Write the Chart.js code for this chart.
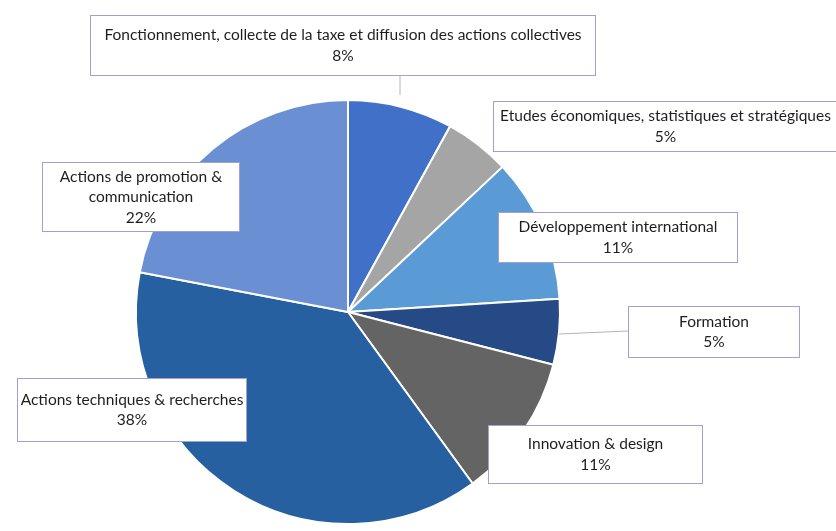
<!DOCTYPE html>
<html>
<head>
<meta charset="utf-8">
<script src="https://cdn.jsdelivr.net/npm/chart.js@4/dist/chart.umd.min.js"></script>
<style>
  html, body { margin: 0; padding: 0; background: #ffffff; }
  #wrap { width: 836px; height: 531px; position: relative; }
</style>
</head>
<body>
<div id="wrap"><canvas id="budgetPie" width="836" height="531"></canvas></div>
<script>
// données (en %)
const categories = [
    'Fonctionnement, collecte de la taxe et diffusion des actions collectives',
    'Etudes économiques, statistiques et stratégiques',
    'Développement international',
    'Formation',
    'Innovation & design',
    'Actions techniques & recherches',
    'Actions de promotion & communication'
];
const shares = [8, 5, 11, 5, 11, 38, 22];
const sliceColors = ['#4070C8', '#A5A5A5', '#5B9BD5', '#264A86', '#646464', '#2760A0', '#6A8FD3'];

// emplacement des étiquettes (boîtes) et traits de rappel
const labelBoxes = [
    { x: 90,  y: 15,  w: 506, h: 61, leader: [[400, 76], [400, 95]] },
    { x: 493, y: 101, w: 345, h: 51 },
    { x: 498, y: 212, w: 240, h: 51 },
    { x: 628, y: 306, w: 172, h: 52, leader: [[559, 334], [628, 331]] },
    { x: 488, y: 425, w: 215, h: 59 },
    { x: 17,  y: 378, w: 230, h: 64 },
    { x: 42,  y: 162, w: 198, h: 70 }
];

const labelFont = '15.5px Lato, "Liberation Sans", sans-serif';
const lineHeight = 20.5;

function wrapText(ctx, text, maxWidth) {
    const words = text.split(' ');
    const lines = [];
    let current = '';
    for (const word of words) {
        const test = current ? current + ' ' + word : word;
        if (current && ctx.measureText(test).width > maxWidth) {
            lines.push(current);
            current = word;
        } else {
            current = test;
        }
    }
    if (current) lines.push(current);
    return lines;
}

const boxLabels = {
    id: 'boxLabels',
    afterDraw(chart) {
        const ctx = chart.ctx;
        const values = chart.data.datasets[0].data;
        const total = values.reduce((a, b) => a + b, 0);
        ctx.save();
        ctx.font = labelFont;
        labelBoxes.forEach((box, i) => {
            if (box.leader) {
                ctx.strokeStyle = '#b4b4b4';
                ctx.lineWidth = 1;
                ctx.beginPath();
                ctx.moveTo(box.leader[0][0], box.leader[0][1]);
                ctx.lineTo(box.leader[1][0], box.leader[1][1]);
                ctx.stroke();
            }
            ctx.fillStyle = '#ffffff';
            ctx.fillRect(box.x, box.y, box.w, box.h);
            ctx.strokeStyle = '#a59fd0';
            ctx.lineWidth = 1;
            ctx.strokeRect(box.x + 0.5, box.y + 0.5, box.w - 1, box.h - 1);

            const pct = Math.round(values[i] / total * 100) + '%';
            const lines = wrapText(ctx, chart.data.labels[i], box.w - 4).concat([pct]);
            ctx.fillStyle = '#1e1e1e';
            ctx.textAlign = 'center';
            ctx.textBaseline = 'middle';
            const cx = box.x + box.w / 2;
            const startY = box.y + box.h / 2 - (lines.length - 1) * lineHeight / 2;
            lines.forEach((line, k) => ctx.fillText(line, cx, startY + k * lineHeight));
        });
        ctx.restore();
    }
};

new Chart(document.getElementById('budgetPie').getContext('2d'), {
    type: 'pie',
    data: {
        labels: categories,
        datasets: [{
            data: shares,
            backgroundColor: sliceColors,
            borderColor: '#ffffff',
            borderWidth: 2,
            hoverOffset: 0
        }]
    },
    options: {
        responsive: false,
        animation: false,
        events: [],
        rotation: 0,
        layout: { padding: { left: 135, right: 275, top: 99, bottom: 6 } },
        plugins: {
            legend: { display: false },
            tooltip: { enabled: false }
        }
    },
    plugins: [boxLabels]
});
</script>
</body>
</html>
